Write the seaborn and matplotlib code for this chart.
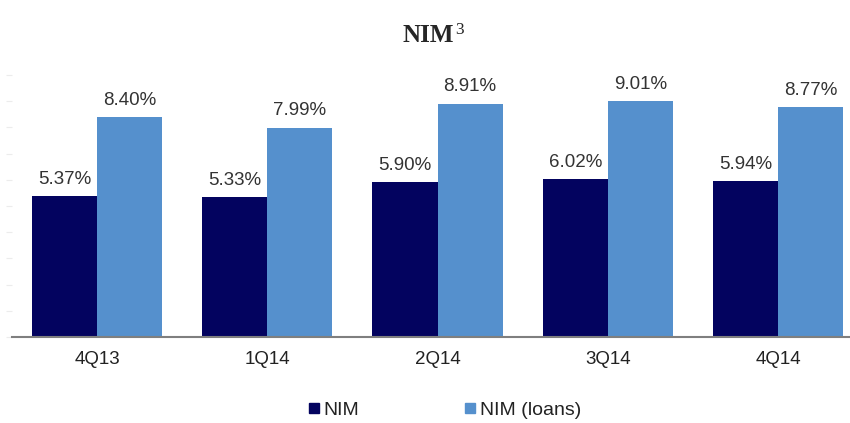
import matplotlib
matplotlib.use("Agg")
import matplotlib.pyplot as plt
import seaborn as sns
import pandas as pd
from matplotlib.lines import Line2D

quarters = ["4Q13", "1Q14", "2Q14", "3Q14", "4Q14"]
nim = [5.37, 5.33, 5.90, 6.02, 5.94]
nim_loans = [8.40, 7.99, 8.91, 9.01, 8.77]
series_names = ["NIM", "NIM (loans)"]
colors = ["#03035F", "#5590CD"]

df = pd.DataFrame({
    "quarter": quarters * 2,
    "series": [series_names[0]] * len(quarters) + [series_names[1]] * len(quarters),
    "value": nim + nim_loans,
})

sns.set_style("white")
plt.rcParams["font.family"] = ["Liberation Sans", "DejaVu Sans"]

fig = plt.figure(figsize=(8.5, 4.23), dpi=100)
ax = fig.add_axes([12 / 850, 1 - 337 / 423, 837 / 850, 262 / 423])

sns.barplot(data=df, x="quarter", y="value", hue="series", order=quarters,
            hue_order=series_names, palette=colors, width=0.765, gap=0,
            saturation=1, edgecolor="none", linewidth=0, ax=ax, legend=False)

for cont in ax.containers:
    ax.bar_label(cont, labels=[f"{v:.2f}%" for v in cont.datavalues],
                 padding=6, fontsize=13.5, color="#333333")

ax.set_xlim(-0.5, 4.417)
ax.set_ylim(0, 10)
ax.set_xlabel("")
ax.set_ylabel("")
for s in ["top", "right", "left"]:
    ax.spines[s].set_visible(False)
ax.spines["bottom"].set_color("#7f7f7f")
ax.spines["bottom"].set_linewidth(1.5)
ax.set_yticks(range(0, 11))
ax.set_yticklabels([])
ax.tick_params(axis="y", left=True, length=4, width=0.8, color="#ececec", direction="out")
ax.tick_params(axis="x", length=0, pad=10, labelsize=13.5, labelcolor="#222222")

# title
fig.text(428 / 850, 1 - 42 / 423, "NIM", ha="center", va="baseline",
         fontsize=18, fontweight="bold", family=["Liberation Serif", "DejaVu Serif"])
fig.text(455 / 850, 1 - 34 / 423, "3", ha="left", va="baseline",
         fontsize=12.5, family=["Liberation Serif", "DejaVu Serif"])

handles = [Line2D([], [], marker="s", linestyle="none", markersize=7,
                  markerfacecolor=c, markeredgecolor=c) for c in colors]
fig.legend(handles, series_names, loc="center", bbox_to_anchor=(0.522, 1 - 410 / 423),
           ncol=2, frameon=False, fontsize=14, columnspacing=5.3,
           handletextpad=0.1, handlelength=0.8, labelcolor="#222222")

fig.savefig("out.png", dpi=100)
